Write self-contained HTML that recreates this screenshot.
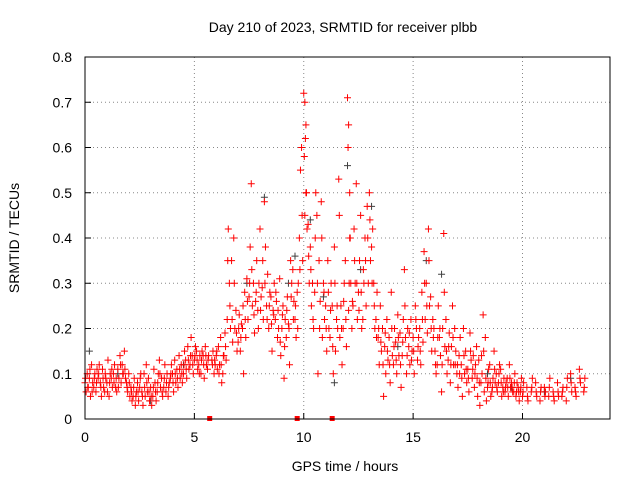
<!DOCTYPE html>
<html><head><meta charset="utf-8"><style>
body{margin:0;background:#fff}
svg{display:block;font-family:"Liberation Sans",sans-serif}
</style></head><body>
<svg id="chart" width="640" height="480">
<text x="343" y="32" font-size="14" text-anchor="middle">Day 210 of 2023, SRMTID for receiver plbb</text>
<text x="345" y="471" font-size="14" text-anchor="middle">GPS time / hours</text>
<text transform="translate(19,238) rotate(-90)" font-size="14" text-anchor="middle">SRMTID / TECUs</text>
<g id="grid"></g>
<g id="ticks"></g>
<g id="gray"></g>
<g id="red"></g>
<rect x="85" y="57" width="525" height="362" fill="none" stroke="#000" stroke-width="1"/>
</svg>
<script>
const xTicks=[0,5,10,15,20];
const yTicks=[0,0.1,0.2,0.3,0.4,0.5,0.6,0.7,0.8];
const hours=[0,0.1,0.2,0.3,0.4,0.5,0.6,0.7,0.8,0.9,1,1.1,1.2,1.3,1.4,1.5,1.6,1.7,1.8,1.9,2,2.1,2.2,2.3,2.4,2.5,2.6,2.7,2.8,2.9,3,3.1,3.2,3.3,3.4,3.5,3.6,3.7,3.8,3.9,4,4.1,4.2,4.3,4.4,4.5,4.6,4.7,4.8,4.9,5,5.1,5.2,5.3,5.4,5.5,5.6,5.8,5.9,6,6.1,6.2,6.3,6.4,6.5,6.6,6.7,6.8,6.9,7,7.1,7.2,7.3,7.4,7.5,7.6,7.7,7.8,7.9,8,8.1,8.2,8.3,8.4,8.5,8.6,8.7,8.8,8.9,9,9.1,9.2,9.3,9.4,9.5,9.6,9.7,9.8,9.9,10,10.05,10.1,10.2,10.3,10.4,10.5,10.6,10.7,10.8,10.9,11,11.1,11.2,11.3,11.4,11.5,11.6,11.7,11.8,11.9,12,12.05,12.1,12.2,12.3,12.4,12.5,12.6,12.7,12.8,12.9,13,13.1,13.2,13.3,13.4,13.5,13.6,13.7,13.8,13.9,14,14.1,14.2,14.3,14.4,14.5,14.6,14.7,14.8,14.9,15,15.1,15.2,15.3,15.4,15.5,15.6,15.7,15.8,15.9,16,16.1,16.2,16.3,16.4,16.5,16.6,16.7,16.8,16.9,17,17.1,17.2,17.3,17.4,17.5,17.6,17.7,17.8,17.9,18,18.1,18.2,18.3,18.4,18.5,18.6,18.7,18.8,18.9,19,19.1,19.2,19.3,19.4,19.5,19.6,19.7,19.8,19.9,20,20.2,20.4,20.6,20.8,21,21.2,21.4,21.6,21.8,22,22.2,22.4,22.6,22.8];
const tecA=[.08,.1,.09,.12,.07,.06,.09,.08,.11,.06,.08,.05,.09,.1,.07,.11,.14,.12,.15,.08,.1,.07,.05,.03,.08,.07,.06,.1,.12,.09,.07,.05,.08,.06,.13,.09,.07,.06,.05,.09,.1,.13,.11,.14,.12,.1,.13,.16,.12,.14,.13,.15,.12,.1,.14,.16,.11,.13,.1,.14,.16,.18,.1,.19,.22,.3,.35,.4,.24,.17,.15,.2,.28,.31,.27,.52,.3,.26,.24,.42,.29,.48,.25,.2,.27,.24,.22,.18,.31,.2,.09,.18,.21,.35,.33,.22,.28,.4,.6,.72,.7,.65,.43,.38,.3,.28,.45,.35,.48,.3,.25,.35,.18,.25,.38,.22,.53,.25,.2,.35,.71,.65,.5,.2,.42,.52,.28,.45,.22,.4,.47,.5,.38,.3,.22,.18,.25,.2,.16,.22,.18,.28,.12,.17,.23,.19,.14,.33,.1,.16,.22,.18,.25,.13,.2,.28,.37,.3,.42,.27,.22,.15,.12,.18,.06,.41,.22,.13,.08,.25,.2,.1,.14,.12,.2,.15,.11,.19,.09,.07,.16,.13,.08,.23,.18,.07,.12,.06,.15,.1,.08,.11,.07,.06,.09,.12,.08,.06,.05,.07,.06,.05,.07,.06,.08,.04,.07,.05,.06,.08,.05,.04,.1,.07,.11,.06];
const tecB=[.06,.07,.05,.08,.1,.11,.12,.05,.07,.09,.13,.1,.07,.12,.06,.09,.08,.1,.09,.06,.05,.04,.09,.06,.04,.1,.03,.05,.06,.04,.03,.11,.04,.1,.07,.05,.12,.1,.08,.12,.06,.08,.07,.09,.08,.15,.09,.11,.18,.1,.16,.11,.14,.15,.09,.12,.14,.15,.12,.11,.12,.08,.14,.13,.42,.2,.17,.2,.15,.23,.21,.1,.18,.22,.38,.25,.19,.35,.3,.27,.22,.38,.32,.28,.15,.3,.26,.2,.14,.25,.22,.27,.12,.3,.26,.18,.3,.55,.35,.45,.5,.42,.3,.25,.2,.5,.1,.26,.18,.22,.15,.2,.3,.1,.15,.2,.18,.12,.3,.16,.24,.4,.3,.25,.3,.22,.35,.2,.3,.25,.3,.35,.42,.2,.28,.12,.15,.05,.1,.13,.08,.14,.2,.1,.14,.07,.22,.18,.2,.12,.15,.1,.2,.18,.12,.17,.22,.19,.25,.15,.2,.1,.25,.14,.2,.16,.1,.19,.16,.12,.15,.07,.18,.05,.1,.08,.06,.13,.14,.12,.05,.03,.1,.06,.04,.11,.05,.09,.08,.06,.12,.05,.09,.08,.05,.07,.06,.1,.08,.04,.09,.08,.04,.09,.05,.07,.06,.09,.04,.05,.07,.09,.06,.05,.08,.09];
const tecC=[.09,.07,.11,.06,.09,.08,.1,.07,.09,.1,.06,.08,.11,.08,.09,.07,.12,.1,.11,.07,
.08,.06,.07,.05,.06,.09,.05,.07,.08,.06,.05,.07,.06,.08,.1,.06,.09,.08,.07,.1,
.08,.1,.09,.11,.1,.12,.11,.13,.14,.12,
.14,.13,.1,.13,.12,.14,.13,
.12,.13,.15,.1,.12,.14,.16,
.35,.25,.22,.3,.19,
.2,.18,.25,.22,.26,.3,.33,.23,.28,.2,
.24,.35,.3,.22,.25,.21,.23,.28,.24,.17,
.23,.16,.24,.2,.27,.22,.25,.2,.33,.45,
.58,.62,.5,
.36,.33,.22,.4,.3,.2,.4,.28,
.2,.28,.24,.16,.3,.25,.45,.2,.26,.22,
.6,.3,.4,
.26,.35,.3,.24,.28,.33,.35,.4,
.44,.3,.25,.18,.2,.17,.12,.19,.15,.12,
.2,.16,.13,.18,.12,.17,.25,.14,.19,.13,
.15,.22,.16,.15,.22,.3,.25,.35,.2,.18,
.12,.18,.2,.12,.28,.15,.16,.12,.18,.12,
.12,.1,.09,.14,.11,.09,.15,.11,.1,.09,
.08,.14,.15,.09,.08,.08,.07,.11,.07,.1,
.08,.06,.07,.07,.09,.07,.08,.06,.06,.07,
.06,.05,.07,.06,.06,.05,.07,.05,.06,.06,.07,.08,.06,.09,.07];
const grayHours=[0.2,1.5,3.0,4.5,7.4,8.2,9.3,9.6,10.3,10.9,11.4,12.0,12.6,13.1,14.3,15.6,16.3,17.6,18.4,19.5,21.0,22.2];
const grayTec=[.15,.1,.04,.12,.3,.49,.3,.36,.44,.27,.08,.56,.33,.47,.16,.35,.32,.19,.1,.07,.06,.09];
const gapHours=[5.7,9.7,11.3];

const X=h=>85+h*(525/24);
const Y=v=>419-v*(362/0.8);
const NS='http://www.w3.org/2000/svg';
function mk(tag,parent){const e=document.createElementNS(NS,tag);parent.appendChild(e);return e;}
const grid=document.getElementById('grid'),ticks=document.getElementById('ticks');
xTicks.forEach(t=>{
  const x=X(t);
  if(t>0){const l=mk('line',grid);l.setAttribute('x1',x);l.setAttribute('x2',x);l.setAttribute('y1',57);l.setAttribute('y2',419);l.setAttribute('stroke','#888');l.setAttribute('stroke-dasharray','1,3');
  
  }
  const tk=mk('line',ticks);tk.setAttribute('x1',x);tk.setAttribute('x2',x);tk.setAttribute('y1',419);tk.setAttribute('y2',413);tk.setAttribute('stroke','#000');
  
  
  const tx=mk('text',ticks);tx.setAttribute('x',x);tx.setAttribute('y',442);tx.setAttribute('font-size','14');tx.setAttribute('text-anchor','middle');tx.textContent=t;
  
  
});
yTicks.forEach(t=>{
  const y=Y(t);
  if(t>0&&t<0.8){const l=mk('line',grid);l.setAttribute('x1',85);l.setAttribute('x2',610);l.setAttribute('y1',y);l.setAttribute('y2',y);l.setAttribute('stroke','#888');l.setAttribute('stroke-dasharray','1,3');
  
  }
  const tk=mk('line',ticks);tk.setAttribute('x1',85);tk.setAttribute('x2',91);tk.setAttribute('y1',y);tk.setAttribute('y2',y);tk.setAttribute('stroke','#000');
  
  
  const tx=mk('text',ticks);tx.setAttribute('x',72);tx.setAttribute('y',y+5);tx.setAttribute('font-size','14');tx.setAttribute('text-anchor','end');tx.textContent=(t===0?'0':t.toFixed(1));
  
  
});
function plus(g,h,v,color){
  if(v===undefined)return;
  const x=X(h),y=Y(v);
  const p=mk('path',g);
  p.setAttribute('d',`M${x-3.5},${y}H${x+3.5}M${x},${y-3.5}V${y+3.5}`);
  p.setAttribute('stroke',color);p.setAttribute('stroke-width','1');
  
  
}
const gray=document.getElementById('gray'),red=document.getElementById('red');
grayHours.forEach((h,i)=>plus(gray,h,grayTec[i],'#404040'));
hours.forEach((h,i)=>{plus(red,h,tecA[i],'#ff0000');plus(red,h+0.05,tecB[i],'#ff0000');plus(red,h+0.025,tecC[i],'#ff0000');});
gapHours.forEach(h=>{
  const r=mk('rect',red);r.setAttribute('x',X(h)-2.5);r.setAttribute('y',416);r.setAttribute('width',5);r.setAttribute('height',5);r.setAttribute('fill','#ff0000');
  
  
});
</script>
</body></html>
